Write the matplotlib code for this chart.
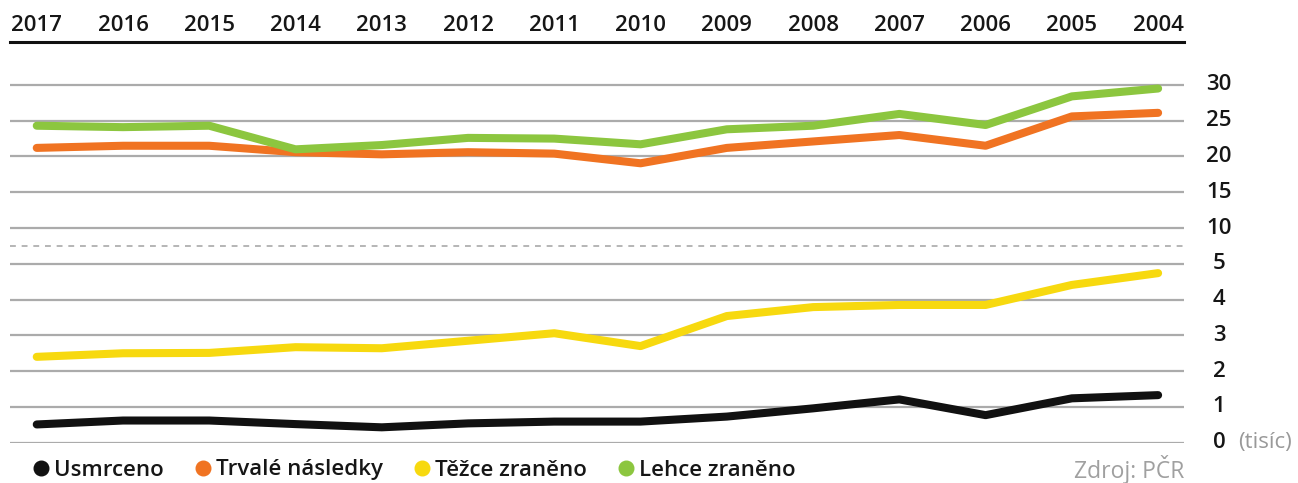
import numpy as np
import matplotlib
matplotlib.use("Agg")
import matplotlib.pyplot as plt
from matplotlib.lines import Line2D
from matplotlib.transforms import blended_transform_factory

plt.rcParams['font.family'] = ['Open Sans', 'DejaVu Sans']

years = list(range(2017, 2003, -1))
usmrceno = [0.51, 0.62, 0.62, 0.52, 0.43, 0.54, 0.59, 0.59, 0.73, 0.96, 1.21, 0.77, 1.24, 1.33]
trvale = [21.2, 21.5, 21.5, 20.6, 20.3, 20.6, 20.4, 19.05, 21.2, 22.1, 23.0, 21.5, 25.6, 26.1]
tezce = [2.40, 2.50, 2.51, 2.67, 2.64, 2.85, 3.06, 2.70, 3.54, 3.79, 3.85, 3.85, 4.41, 4.74]
lehce = [24.3, 24.1, 24.3, 21.0, 21.6, 22.6, 22.5, 21.7, 23.8, 24.3, 25.95, 24.4, 28.4, 29.5]

series = [
    ("Usmrceno", usmrceno, "#111111"),
    ("Trvalé následky", trvale, "#f07322"),
    ("Těžce zraněno", tezce, "#f7d90f"),
    ("Lehce zraněno", lehce, "#8cc63f"),
]
y_ticks = [0, 1, 2, 3, 4, 5, 10, 15, 20, 25, 30]
break_value = 7.5
TXT = '#161616'
WEIGHT = 'semibold'


# broken axis: 0-5 in units of 1, above 5 in units of 5
def fwd(v):
    v = np.asarray(v, dtype=float)
    return np.where(v <= 5, v, 4 + v / 5)


def inv(y):
    y = np.asarray(y, dtype=float)
    return np.where(y <= 5, y, 5 * (y - 4))


W, H = 1298, 483
fig = plt.figure(figsize=(W / 100, H / 100), dpi=100)
ax = fig.add_axes([10 / W, 1 - 442.7 / H, (1184 - 10) / W, (442.7 - 42) / H])
ax.set_yscale('function', functions=(fwd, inv))
ax.set_ylim(0, 36)
ax.set_xlim(2017.31, 2003.70)

for t in y_ticks:
    ax.axhline(t, color="#ababab", lw=1.6, zorder=1)
ax.axhline(break_value, color="#b5b5b5", lw=1.4, ls=(0, (3, 3)), zorder=1)

for name, vals, col in series:
    ax.plot(years, vals, color=col, lw=5.8, solid_capstyle='round',
            solid_joinstyle='round', zorder=3)

for s in ['left', 'right', 'bottom']:
    ax.spines[s].set_visible(False)
ax.spines['top'].set_color('#111111')
ax.spines['top'].set_linewidth(2.2)

ax.xaxis.tick_top()
ax.set_xticks(years)
ax.set_xticklabels([str(y) for y in years], fontsize=16, color=TXT,
                   fontweight=WEIGHT)
ax.tick_params(axis='x', length=0, pad=4)

ax.set_yticks([])
trans = blended_transform_factory(ax.transAxes, ax.transData)
lab_x = (1219 - 10) / (1184 - 10)
for t in y_ticks:
    ax.text(lab_x, t, str(t), transform=trans, ha='center', va='center',
            fontsize=16, color=TXT, fontweight=WEIGHT)
ax.text((1238 - 10) / (1184 - 10), 0, "(tisíc)", transform=trans, ha='left',
        va='center', fontsize=16, color='#999999')

handles = [Line2D([], [], marker='o', ls='none', color=c, markersize=10.5)
           for _, _, c in series]
leg = fig.legend(handles, [n for n, _, _ in series], loc='center left',
                 bbox_to_anchor=(34 / W, 1 - 470 / H), ncol=4, frameon=False,
                 prop={'size': 16, 'weight': WEIGHT}, handlelength=0.6,
                 handletextpad=0.3, columnspacing=1.45, borderaxespad=0,
                 borderpad=0)
for txt in leg.get_texts():
    txt.set_color(TXT)

fig.text(1184 / W, 1 - 470 / H, "Zdroj: PČR", ha='right', va='center',
         fontsize=16.5, color='#a0a0a0')

fig.savefig("out.png", dpi=100)
